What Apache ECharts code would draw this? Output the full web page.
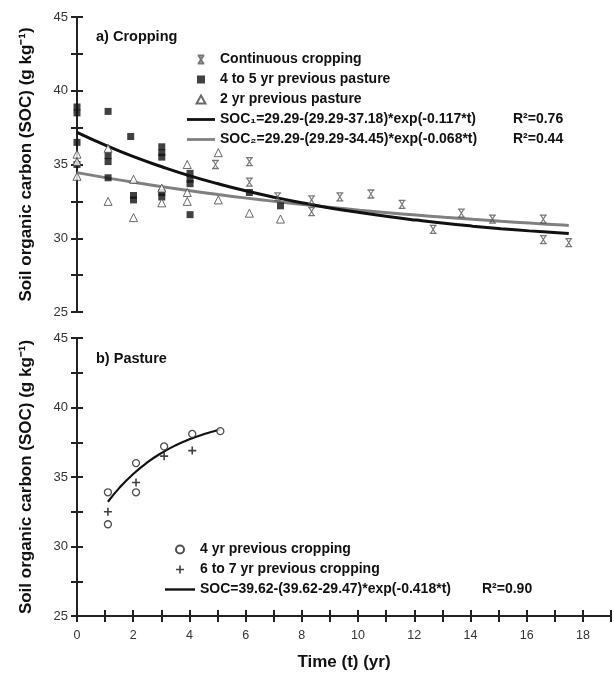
<!DOCTYPE html>
<html><head><meta charset="utf-8">
<script src="https://cdn.jsdelivr.net/npm/echarts@6/dist/echarts.min.js"></script>
<style>html,body{margin:0;padding:0;background:#fff}#c{width:614px;height:679px}</style>
</head><body><div id="c"></div>
<script>
// ---- tick labels ----
const yTickLabels = [25, 30, 35, 40, 45];
const xTickLabels = [0, 2, 4, 6, 8, 10, 12, 14, 16, 18];

// ---- a) Cropping : observed points [t, SOC] ----
const continuousCropping = [[4.9,35.0],[6.1,35.2],[6.1,33.8],[7.1,32.8],[8.3,32.6],[8.3,31.8],[9.3,32.8],[10.4,33.0],[11.5,32.3],[12.6,30.6],[13.6,31.7],[14.7,31.3],[16.5,31.3],[16.5,29.9],[17.4,29.7]];
const pasture4to5 = [[0,38.9],[0,38.5],[0,36.5],[0,35.0],[1.1,38.6],[1.1,35.6],[1.1,35.2],[1.1,34.1],[1.9,36.9],[2,32.9],[2,32.6],[3,36.2],[3,35.8],[3,35.5],[3,33.1],[3,32.8],[4,34.4],[4,34.0],[4,33.7],[4,31.6],[6.1,33.1],[7.2,32.2]];
const pasture2 = [[0,35.7],[0,35.2],[0,34.2],[1.1,36.1],[1.1,32.5],[2,34.0],[2,31.4],[3,33.4],[3,32.4],[3.9,35.0],[3.9,33.1],[3.9,32.5],[5,35.8],[5,32.6],[6.1,31.7],[7.2,31.3]];

// fitted curves
const fitT = [0,1,2,3,4,5,6,7,8,9,10,11,12,13,14,15,16,17,17.4];
const fit1V = [37.18,36.31,35.53,34.85,34.23,33.69,33.20,32.77,32.39,32.04,31.74,31.47,31.23,31.01,30.82,30.65,30.50,30.37,30.32];
const fit2V = [34.45,34.11,33.79,33.50,33.22,32.96,32.72,32.50,32.29,32.09,31.90,31.73,31.57,31.42,31.28,31.15,31.03,30.91,30.87];

// ---- b) Pasture ----
const prevCropping4 = [[1.1,33.9],[1.1,31.6],[2.1,36.0],[2.1,33.9],[3.1,37.2],[4.1,38.1],[5.1,38.3]];
const prevCropping6to7 = [[1.1,32.5],[2.1,34.6],[3.1,36.5],[4.1,36.9]];
const fit3T = [1.1,1.5,2,2.5,3,3.5,4,4.5,5.1];
const fit3V = [33.22,34.20,35.22,36.05,36.72,37.27,37.71,38.07,38.42];

// names
const nCont = 'Continuous cropping';
const nP45 = '4 to 5 yr previous pasture';
const nP2 = '2 yr previous pasture';
const nFit1 = 'SOC\u2081=29.29-(29.29-37.18)*exp(-0.117*t)';
const nFit2 = 'SOC\u2082=29.29-(29.29-34.45)*exp(-0.068*t)';
const nC4 = '4 yr previous cropping';
const nC67 = '6 to 7 yr previous cropping';
const nFit3 = 'SOC=39.62-(39.62-29.47)*exp(-0.418*t)';
const r2 = {};
r2[nFit1] = '0.76'; r2[nFit2] = '0.44'; r2[nFit3] = '0.90';

const zip = (t, v) => t.map((x, i) => [x, v[i]]);

const FONT = '"Liberation Sans", Arial, sans-serif';
const AX = '#222';

const SYM_X = 'path://M0,0H10M0,12H10M1.5,0L8.5,12M8.5,0L1.5,12';
const SYM_SQ = 'path://M0,0H10V10H0Z';
const SYM_TRI = 'path://M5,0L10,9H0Z';
const SYM_PLUS = 'path://M4,0H6V4H10V6H6V10H4V6H0V4H4Z';
const SYM_LINE = 'path://M0,0H30V3H0Z';
const SYM_LINE_B = 'path://M0,0H30V2.4H0Z';

function yAxes(gridIndex) {
  return [{
    gridIndex, type: 'value', min: 25, max: 45, interval: 2.5,
    name: 'Soil organic carbon (SOC) (g kg\u207B\u00B9)', nameLocation: 'middle', nameGap: 42, nameRotate: 90,
    nameTextStyle: {fontFamily: FONT, fontWeight: 'bold', fontSize: 17, color: '#111'},
    axisLine: {show: true, lineStyle: {color: AX, width: 2}},
    axisTick: {show: true, inside: false, length: 6, lineStyle: {color: AX, width: 2}},
    axisLabel: {margin: 9, fontFamily: FONT, fontSize: 13, color: '#333',
      formatter: v => yTickLabels.indexOf(v) >= 0 ? String(v) : ''},
    splitLine: {show: false}
  }, {
    gridIndex, type: 'value', min: 25, max: 45, interval: 2.5, position: 'left',
    axisLine: {show: false}, axisLabel: {show: false}, splitLine: {show: false},
    axisTick: {show: true, inside: true, length: 6, lineStyle: {color: AX, width: 2}}
  }];
}

function legendText(eqWidth) {
  return {fontFamily: FONT, fontWeight: 'bold', fontSize: 14, color: '#111', lineHeight: 17,
    rich: {w: {fontFamily: FONT, fontWeight: 'bold', fontSize: 14, lineHeight: 17, color: '#111'},
           eq: {fontFamily: FONT, fontWeight: 'bold', fontSize: 14, lineHeight: 17, width: eqWidth, color: '#111'},
           r: {fontFamily: FONT, fontWeight: 'bold', fontSize: 14, lineHeight: 17, color: '#111'}}};
}
const legendFmt = name => r2[name] ? '{eq|' + name + '}{r|R\u00B2=' + r2[name] + '}' : '{w|' + name + '}';

const option = {
  animation: false,
  backgroundColor: '#fff',
  title: [
    {text: 'a) Cropping', left: 91, top: 24, textStyle: {fontFamily: FONT, fontWeight: 'bold', fontSize: 14.5, color: '#111'}},
    {text: 'b) Pasture', left: 91, top: 346, textStyle: {fontFamily: FONT, fontWeight: 'bold', fontSize: 14.5, color: '#111'}}
  ],
  grid: [
    {left: 77, top: 17, width: 540, height: 295},
    {left: 77, top: 338, width: 540, height: 278}
  ],
  xAxis: [
    {gridIndex: 0, type: 'value', min: 0, max: 19, interval: 1, show: false},
    {gridIndex: 1, type: 'value', min: 0, max: 19, interval: 1,
      name: 'Time (t) (yr)', nameLocation: 'middle', nameGap: 38,
      nameTextStyle: {fontFamily: FONT, fontWeight: 'bold', fontSize: 17, color: '#111'},
      axisLine: {show: true, lineStyle: {color: AX, width: 2}},
      axisTick: {show: true, inside: false, length: 6, lineStyle: {color: AX, width: 2}},
      axisLabel: {margin: 13, fontFamily: FONT, fontSize: 12.5, color: '#333',
        formatter: v => xTickLabels.indexOf(v) >= 0 ? String(v) : ''},
      splitLine: {show: false}},
    {gridIndex: 1, type: 'value', min: 0, max: 19, interval: 1, position: 'bottom',
      axisLine: {show: false}, axisLabel: {show: false}, splitLine: {show: false},
      axisTick: {show: true, inside: true, length: 6, lineStyle: {color: AX, width: 2}}}
  ],
  yAxis: yAxes(0).concat(yAxes(1)),
  legend: [
    {orient: 'vertical', left: 182, top: 46, itemWidth: 28, itemHeight: 8, itemGap: 3, itemTextGap: 8,
      symbolKeepAspect: true,
      data: [
        {name: nCont, icon: SYM_X},
        {name: nP45, icon: SYM_SQ},
        {name: nP2, icon: SYM_TRI},
        {name: nFit1, icon: SYM_LINE},
        {name: nFit2, icon: SYM_LINE}
      ],
      formatter: legendFmt, textStyle: legendText(293)},
    {orient: 'vertical', left: 160, top: 536, itemWidth: 30, itemHeight: 8, itemGap: 3, itemTextGap: 13,
      symbolKeepAspect: true,
      data: [
        {name: nC4, icon: 'circle'},
        {name: nC67, icon: SYM_PLUS},
        {name: nFit3, icon: SYM_LINE_B}
      ],
      formatter: legendFmt, textStyle: legendText(282)}
  ],
  series: [
    {name: nFit2, type: 'line', xAxisIndex: 0, yAxisIndex: 0, data: zip(fitT, fit2V), smooth: true,
      showSymbol: false, symbol: 'none', lineStyle: {color: '#808080', width: 3}, itemStyle: {color: '#808080'}, z: 2},
    {name: nFit1, type: 'line', xAxisIndex: 0, yAxisIndex: 0, data: zip(fitT, fit1V), smooth: true,
      showSymbol: false, symbol: 'none', lineStyle: {color: '#111', width: 3}, itemStyle: {color: '#111'}, z: 3},
    {name: nCont, type: 'scatter', xAxisIndex: 0, yAxisIndex: 0, data: continuousCropping,
      symbol: SYM_X, symbolSize: [7, 8],
      itemStyle: {color: 'none', borderColor: '#555', borderWidth: 1.2}, z: 5},
    {name: nP45, type: 'scatter', xAxisIndex: 0, yAxisIndex: 0, data: pasture4to5,
      symbol: SYM_SQ, symbolSize: 7, itemStyle: {color: '#111'}, z: 5},
    {name: nP2, type: 'scatter', xAxisIndex: 0, yAxisIndex: 0, data: pasture2,
      symbol: SYM_TRI, symbolSize: [8, 8], itemStyle: {color: '#fff', borderColor: '#444', borderWidth: 1}, z: 6},
    {name: nFit3, type: 'line', xAxisIndex: 1, yAxisIndex: 2, data: zip(fit3T, fit3V), smooth: true,
      showSymbol: false, symbol: 'none', lineStyle: {color: '#111', width: 2.2}, itemStyle: {color: '#111'}, z: 2},
    {name: nC4, type: 'scatter', xAxisIndex: 1, yAxisIndex: 2, data: prevCropping4,
      symbol: 'circle', symbolSize: 7, itemStyle: {color: '#fff', borderColor: '#222', borderWidth: 1.3}, z: 5},
    {name: nC67, type: 'scatter', xAxisIndex: 1, yAxisIndex: 2, data: prevCropping6to7,
      symbol: SYM_PLUS, symbolSize: 8, itemStyle: {color: '#111'}, z: 5}
  ]
};

const chart = echarts.init(document.getElementById('c'), null, {renderer: 'canvas'});
chart.setOption(option);
</script>
</body></html>
